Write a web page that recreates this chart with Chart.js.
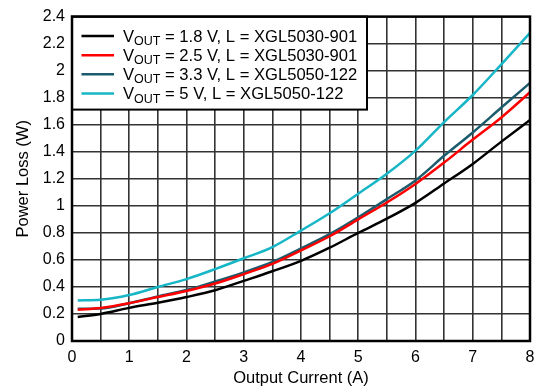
<!DOCTYPE html>
<html>
<head>
<meta charset="utf-8">
<title>Power Loss vs Output Current</title>
<script src="https://cdn.jsdelivr.net/npm/chart.js@4/dist/chart.umd.min.js"></script>
<style>
  html, body { margin: 0; padding: 0; background: #fff; }
  canvas { display: block; }
</style>
</head>
<body>
<canvas id="loss" width="537" height="390"></canvas>
<script>
// output current (A)
var current = [0.1, 0.5, 1, 1.5, 2, 2.5, 3, 3.5, 4, 4.5, 5, 5.5, 6, 6.5, 7, 7.5, 8];

// power loss (W) for each output voltage / inductor
var loss18 = [0.178, 0.2, 0.245, 0.283, 0.325, 0.375, 0.445, 0.516, 0.593, 0.69, 0.8, 0.905, 1.022, 1.165, 1.31, 1.475, 1.635];
var loss25 = [0.232, 0.245, 0.28, 0.325, 0.37, 0.425, 0.495, 0.57, 0.67, 0.775, 0.9, 1.025, 1.162, 1.32, 1.49, 1.654, 1.84];
var loss33 = [0.238, 0.24, 0.28, 0.33, 0.377, 0.44, 0.508, 0.585, 0.685, 0.79, 0.915, 1.05, 1.188, 1.37, 1.543, 1.727, 1.91];
var loss50 = [0.3, 0.305, 0.34, 0.4, 0.458, 0.532, 0.612, 0.695, 0.817, 0.945, 1.09, 1.237, 1.408, 1.62, 1.82, 2.047, 2.28];

// legend text pieces
var vout = ['1.8 V', '2.5 V', '3.3 V', '5 V'];
var inductor = ['XGL5030-901', 'XGL5030-901', 'XGL5050-122', 'XGL5050-122'];
var colors = ['#000000', '#ff0000', '#1b5b6c', '#16b6c6'];

var FONT = 'Liberation Sans, Arial, Helvetica, sans-serif';

function pts(ys) {
    return current.map(function (x, i) { return {x: x, y: ys[i]}; });
}

var series = [loss18, loss25, loss33, loss50];
var datasets = series.map(function (ys, i) {
    return {
        label: 'VOUT = ' + vout[i] + ', L = ' + inductor[i],
        data: pts(ys),
        borderColor: colors[i],
        backgroundColor: colors[i],
        borderWidth: 2.5,
        pointRadius: 0,
        cubicInterpolationMode: 'monotone',
        fill: false
    };
});

// boxed legend with subscripts + heavy frame round the plot
var framePlugin = {
    id: 'frameLegend',
    afterDatasetsDraw: function (chart) {
        var ctx = chart.ctx, a = chart.chartArea;
        var x0 = a.left, y0 = a.top, w = 295, h = 93;
        ctx.save();
        ctx.fillStyle = '#fff';
        ctx.fillRect(x0, y0, w, h);
        ctx.lineWidth = 2;
        ctx.strokeStyle = '#000';
        ctx.strokeRect(x0, y0, w, h);

        for (var i = 0; i < vout.length; i++) {
            var ly = y0 + 19.5 + i * 19.1;
            ctx.strokeStyle = colors[i];
            ctx.lineWidth = 2.5;
            ctx.beginPath();
            ctx.moveTo(x0 + 9.5, ly);
            ctx.lineTo(x0 + 42, ly);
            ctx.stroke();

            var tx = x0 + 51, base = ly + 5.8;
            ctx.fillStyle = '#000';
            ctx.textBaseline = 'alphabetic';
            ctx.textAlign = 'left';
            ctx.font = '16.6px ' + FONT;
            ctx.fillText('V', tx, base);
            tx += ctx.measureText('V').width;
            ctx.font = '12.5px ' + FONT;
            ctx.fillText('OUT', tx, base + 3.3);
            tx += ctx.measureText('OUT').width;
            ctx.font = '16.6px ' + FONT;
            ctx.fillText(' = ' + vout[i] + ', L = ' + inductor[i], tx, base);
        }

        ctx.lineWidth = 2.5;
        ctx.strokeStyle = '#000';
        ctx.strokeRect(a.left, a.top, a.right - a.left, a.bottom - a.top);
        ctx.restore();
    }
};

var gridColor = '#333333';

new Chart(document.getElementById('loss').getContext('2d'), {
    type: 'line',
    data: { datasets: datasets },
    plugins: [framePlugin],
    options: {
        responsive: false,
        devicePixelRatio: 1,
        animation: false,
        layout: { padding: { top: 15, right: 7, left: 0, bottom: 0 } },
        plugins: {
            legend: { display: false },
            tooltip: { enabled: false }
        },
        scales: {
            x: {
                type: 'linear',
                min: 0,
                max: 8,
                afterFit: function (s) {
                    s.height = 49;
                    s.paddingLeft = 0;
                    s.paddingRight = 0;
                },
                ticks: {
                    stepSize: 0.5,
                    autoSkip: false,
                    maxRotation: 0,
                    padding: 7,
                    color: '#000',
                    font: { family: FONT, size: 16 },
                    callback: function (v) { return v % 1 === 0 ? String(v) : ''; }
                },
                grid: { color: gridColor, lineWidth: 1.6, drawTicks: false },
                border: { display: false },
                title: {
                    display: true,
                    text: 'Output Current (A)',
                    color: '#000',
                    font: { family: FONT, size: 16.5 },
                    padding: { top: 0, bottom: 2 }
                }
            },
            y: {
                min: 0,
                max: 2.4,
                afterFit: function (s) { s.width = 72; },
                ticks: {
                    stepSize: 0.2,
                    padding: 7,
                    color: '#000',
                    font: { family: FONT, size: 16 },
                    callback: function (v) { return String(+v.toFixed(1)); }
                },
                grid: { color: gridColor, lineWidth: 1.6, drawTicks: false },
                border: { display: false },
                title: {
                    display: true,
                    text: 'Power Loss (W)',
                    color: '#000',
                    font: { family: FONT, size: 16.5 },
                    padding: { top: 13.5, bottom: 0 }
                }
            }
        }
    }
});
</script>
</body>
</html>
